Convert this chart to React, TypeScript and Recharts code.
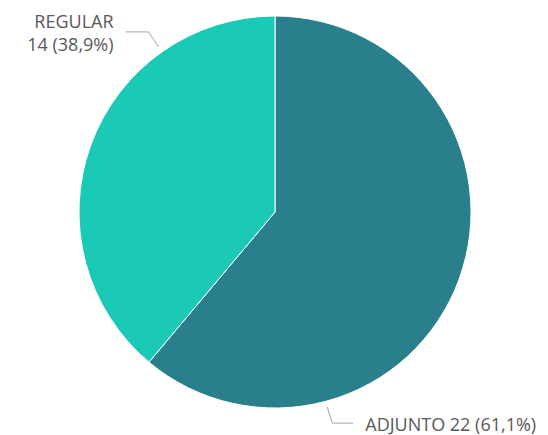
import React from "react";
import { PieChart, Pie, Cell } from "recharts";

const categories = ["ADJUNTO", "REGULAR"];
const values = [22, 14];
const percentLabels = ["61,1%", "38,9%"];
const colors = ["#2a7f8d", "#1ac9b6"];
const labelAngles = [-75, 125.2];

const data = categories.map((name, i) => ({ name, value: values[i] }));

const RAD = Math.PI / 180;

const renderLabel = (props: any) => {
  const { cx, cy, outerRadius, index } = props;
  const a = labelAngles[index];
  const r0 = outerRadius + 6;
  const x0 = cx + r0 * Math.cos(a * RAD);
  const y0 = cy - r0 * Math.sin(a * RAD);
  const font = { fontFamily: "Open Sans, sans-serif", fontSize: 18, fill: "#595959" };
  if (index === 0) {
    const x1 = x0 + 5;
    const y1 = y0 + 16;
    const x2 = x1 + 21;
    return (
      <g>
        <polyline points={`${x0},${y0} ${x1},${y1} ${x2},${y1}`} fill="none" stroke="#a6a6a6" strokeWidth={1} />
        <text x={x2 + 12} y={y1 + 8} textAnchor="start" {...font}>
          {`${categories[index]} ${values[index]} (${percentLabels[index]})`}
        </text>
      </g>
    );
  }
  const x1 = x0 - 10;
  const y1 = y0 - 15;
  const x2 = x1 - 23;
  return (
    <g>
      <polyline points={`${x0},${y0} ${x1},${y1} ${x2},${y1}`} fill="none" stroke="#a6a6a6" strokeWidth={1} />
      <text x={x2 - 12} y={y1 - 4} textAnchor="end" {...font}>
        {categories[index]}
      </text>
      <text x={x2 - 12} y={y1 + 19} textAnchor="end" {...font}>
        {`${values[index]} (${percentLabels[index]})`}
      </text>
    </g>
  );
};

export default function App() {
  return (
    <div style={{ position: "absolute", left: 0, top: 0, width: 548, height: 435, background: "#fff" }}>
      <PieChart width={548} height={435} margin={{ top: 0, right: 0, bottom: 0, left: 0 }}>
        <Pie
          data={data}
          dataKey="value"
          cx={275}
          cy={212}
          outerRadius={196}
          startAngle={90}
          endAngle={-270}
          stroke="#ffffff"
          strokeWidth={1}
          label={renderLabel}
          labelLine={false}
          isAnimationActive={false}
        >
          {data.map((d, i) => (
            <Cell key={d.name} fill={colors[i]} />
          ))}
        </Pie>
      </PieChart>
    </div>
  );
}
